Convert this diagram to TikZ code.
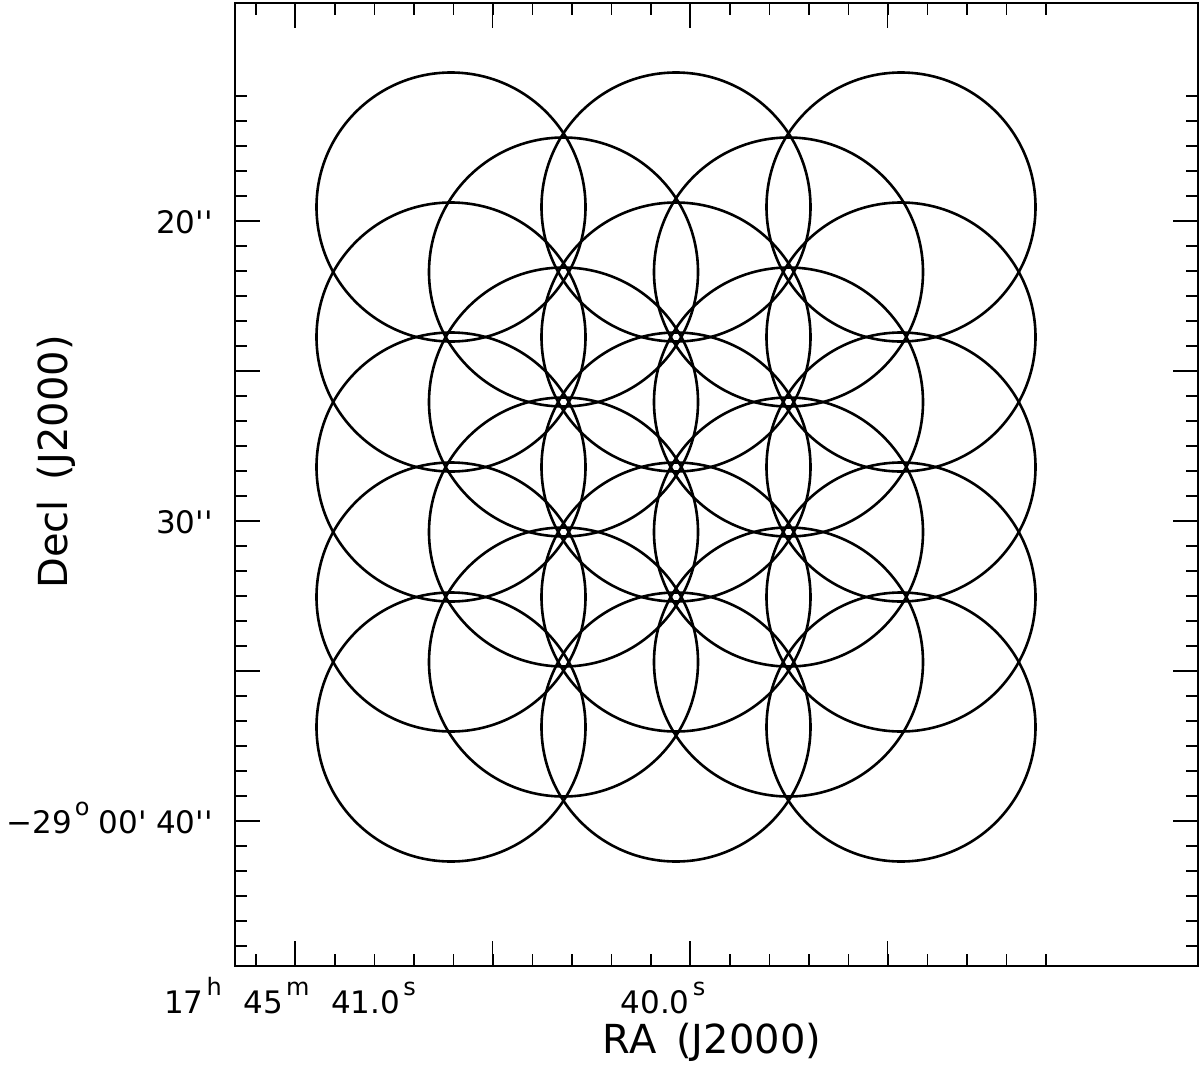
\documentclass[tikz,border=0pt]{standalone}
\usepackage{fontspec}
\setmainfont{DejaVu Sans}[Ligatures=TeXOff]
\newcommand\upsc[1]{\hspace{0.1em}\raisebox{0.55em}{\fontsize{12}{12}\selectfont #1}}

\begin{document}
\begin{tikzpicture}[x=0.5pt,y=-0.5pt]
	\tikzstyle{beam}=[draw,circle,line width=1.3pt,inner sep=0pt,minimum size=134.5pt]
	\tikzstyle{axis_line}=[line width=0.9pt]
	\tikzstyle{tick_label}=[font=\fontsize{15.5}{15.5}\selectfont,inner sep=0pt]
	\tikzstyle{axis_title}=[font=\fontsize{20}{20}\selectfont,inner sep=0pt]
	\useasboundingbox (0,0) rectangle (1200,1071);
	% frame and ticks
	\draw [axis_line] (235,3) rectangle (1198,966);
	\foreach \k in {0,...,20} {
		\draw [axis_line] (256+39.5*\k,966) -- ++(0,-12);
		\draw [axis_line] (256+39.5*\k,3) -- ++(0,12);}
	\foreach \xx in {295,492.5,690,887.5} {
		\draw [axis_line] (\xx,966) -- ++(0,-25);
		\draw [axis_line] (\xx,3) -- ++(0,25);}
	\foreach \k in {0,...,34} {
		\draw [axis_line] (235,96+25*\k) -- ++(12,0);
		\draw [axis_line] (1198,96+25*\k) -- ++(-12,0);}
	\foreach \yy in {221,371,521,671,821} {
		\draw [axis_line] (235,\yy) -- ++(25,0);
		\draw [axis_line] (1198,\yy) -- ++(-25,0);}
	% mosaic pointings
	\foreach \c/\x in {1/451,3/676,5/901}
		\foreach \r in {0,...,4}
			\node [beam] (b\c\r) at (\x,207+130*\r) {};
	\foreach \c/\x in {2/563.5,4/788.5}
		\foreach \r in {0,...,3}
			\node [beam] (b\c\r) at (\x,272+130*\r) {};
	% labels
	\node [tick_label,anchor=base east] (dec20) at (213,233) {20''};
	\node [tick_label,anchor=base east] (dec30) at (213,533) {30''};
	\node [tick_label,anchor=base east] (dec40) at (213,833) {−29\upsc{o}\hspace{0.3em}00'\hspace{0.3em}40''};
	\node [tick_label,anchor=base] (ra41) at (290,1013) {17\upsc{h}\hspace{0.7em}45\upsc{m}\hspace{0.7em}41.0\upsc{s}};
	\node [tick_label,anchor=base] (ra40) at (663,1013) {40.0\upsc{s}};
	\node [axis_title,anchor=base] (xtitle) at (712,1053) {RA\hspace{0.5em}(J2000)};
	\node [axis_title,anchor=base,rotate=90] (ytitle) at (68,462) {Decl\hspace{0.5em}(J2000)};
\end{tikzpicture}
\end{document}
